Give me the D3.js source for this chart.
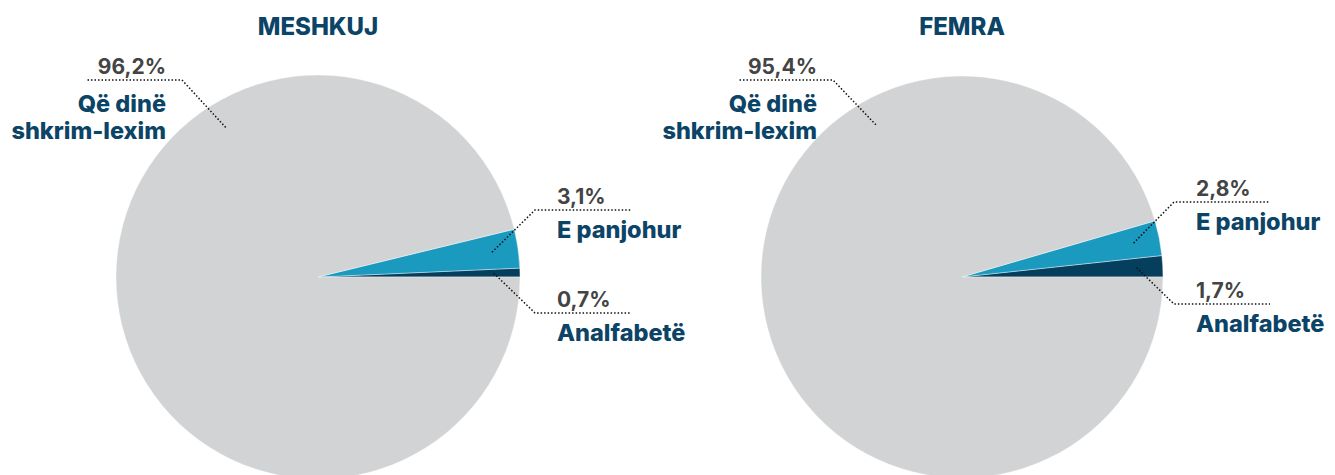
<!DOCTYPE html>
<html>
<head>
<meta charset="utf-8">
<script src="https://cdn.jsdelivr.net/npm/d3@7"></script>
<style>
  body { margin: 0; background: #fff; }
  svg { display: block; font-family: Inter, "Noto Sans", sans-serif; }
</style>
</head>
<body>
<svg id="chart" width="1335" height="475"></svg>
<script>
// Data
const groups = ['MESHKUJ', 'FEMRA'];
const categories = ['Analfabetë', 'E panjohur', 'Që dinë shkrim-lexim'];
const meshkujValues = [0.7, 3.1, 96.2];
const femraValues = [1.7, 2.8, 95.4];

const COLORS = ['#063e5e', '#1b9ac0', '#d1d3d4'];
const TEXT_NAVY = '#0b4466';
const TEXT_GREY = '#444444';

const svg = d3.select('#chart');
const fmt = v => String(v.toFixed(1)).replace('.', ',') + '%';

// Layout per pie (center, radius, label placement)
const layouts = [
  { cx: 318, cy: 277, r: 202, labels: [
      { anchor: 'r', ex: 217, ey: 36 },
      { anchor: 'r', ex: 217, ey: -67 },
      { anchor: 'l', ex: -136, ey: -197, ang: -0.553 } ] },
  { cx: 962, cy: 277, r: 201, labels: [
      { anchor: 'r', ex: 212, ey: 27 },
      { anchor: 'r', ex: 212, ey: -75 },
      { anchor: 'l', ex: -129, ey: -197, ang: -0.515 } ] }
];

// slices go counter-clockwise from 3 o'clock
const pie = d3.pie().sort(null)
  .startAngle(Math.PI / 2)
  .endAngle(Math.PI / 2 - 2 * Math.PI);

[meshkujValues, femraValues].forEach((values, gi) => {
  const L = layouts[gi];
  const g = svg.append('g').attr('transform', `translate(${L.cx},${L.cy})`);
  const arcs = pie(values);
  const arc = d3.arc().innerRadius(0).outerRadius(L.r);

  g.selectAll('path.slice')
    .data(arcs)
    .join('path')
    .attr('class', 'slice')
    .attr('d', arc)
    .attr('fill', (d, i) => COLORS[i])
    .attr('stroke', '#fff')
    .attr('stroke-width', 0.4);

  // title
  svg.append('text')
    .attr('x', L.cx).attr('y', 35)
    .attr('text-anchor', 'middle')
    .attr('font-size', 24).attr('font-weight', 800)
    .attr('fill', TEXT_NAVY)
    .text(groups[gi]);

  arcs.forEach((d, i) => {
    const lab = L.labels[i];
    const rr = L.r * 0.87;
    let px, py;
    if (lab.ang !== undefined) {
      // custom anchor on the big slice (angle in d3 convention)
      px = Math.sin(lab.ang) * rr; py = -Math.cos(lab.ang) * rr;
    } else {
      const mid = (d.startAngle + d.endAngle) / 2;
      px = Math.sin(mid) * rr; py = -Math.cos(mid) * rr;
    }
    const hx = lab.anchor === 'r' ? lab.ex + 96 : lab.ex - 95;
    g.append('polyline')
      .attr('points', `${px},${py} ${lab.ex},${lab.ey} ${hx},${lab.ey}`)
      .attr('fill', 'none')
      .attr('stroke', '#111')
      .attr('stroke-width', 1.5)
      .attr('stroke-dasharray', '1.5,2');

    if (lab.anchor === 'r') {
      const tx = lab.ex + 22;
      g.append('text')
        .attr('x', tx).attr('y', lab.ey - 6)
        .attr('font-size', 21).attr('font-weight', 700)
        .attr('fill', TEXT_GREY)
        .text(fmt(values[i]));
      g.append('text')
        .attr('x', tx).attr('y', lab.ey + 28)
        .attr('font-size', 23.5).attr('font-weight', 800)
        .attr('fill', TEXT_NAVY)
        .text(categories[i]);
    } else {
      const tx = lab.ex - 16;
      g.append('text')
        .attr('x', tx).attr('y', lab.ey - 6)
        .attr('text-anchor', 'end')
        .attr('font-size', 21).attr('font-weight', 700)
        .attr('fill', TEXT_GREY)
        .text(fmt(values[i]));
      const words = ['Që dinë', 'shkrim-lexim'];
      words.forEach((w, k) => {
        g.append('text')
          .attr('x', tx).attr('y', lab.ey + 32 + k * 27)
          .attr('text-anchor', 'end')
          .attr('font-size', 23.5).attr('font-weight', 800)
          .attr('fill', TEXT_NAVY)
          .text(w);
      });
    }
  });
});
</script>
</body>
</html>
